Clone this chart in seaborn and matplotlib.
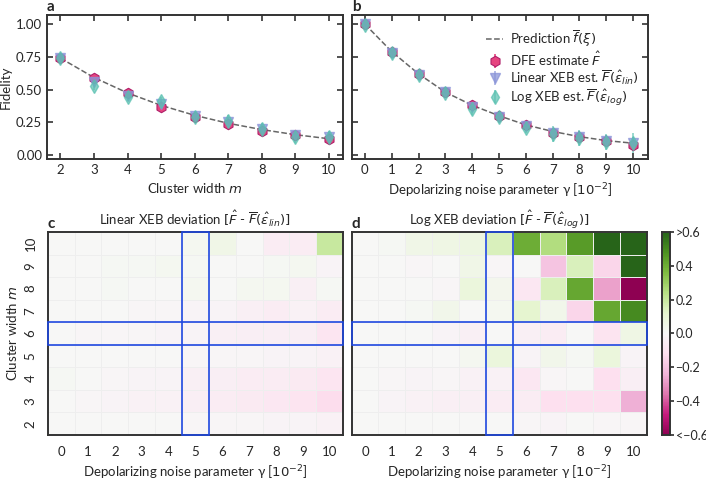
import numpy as np
import pandas as pd
import matplotlib
matplotlib.use("Agg")
import matplotlib.pyplot as plt
from matplotlib.patches import Rectangle
import seaborn as sns

# panel a: fidelity vs cluster width
widths = [2, 3, 4, 5, 6, 7, 8, 9, 10]
pred_a = [0.74, 0.592, 0.474, 0.379, 0.303, 0.242, 0.194, 0.155, 0.124]
dfe_a = [0.74, 0.59, 0.47, 0.37, 0.29, 0.24, 0.18, 0.15, 0.12]
lin_a = [0.74, 0.56, 0.45, 0.39, 0.30, 0.25, 0.20, 0.15, 0.14]
log_a = [0.74, 0.53, 0.44, 0.41, 0.29, 0.26, 0.20, 0.14, 0.14]
err_a = [0.02, 0.02, 0.02, 0.02, 0.03, 0.03, 0.03, 0.03, 0.03]

# panel b: fidelity vs depolarizing noise
gammas = [0, 1, 2, 3, 4, 5, 6, 7, 8, 9, 10]
pred_b = [1.00, 0.79, 0.62, 0.48, 0.38, 0.30, 0.23, 0.18, 0.14, 0.11, 0.09]
dfe_b = [1.00, 0.79, 0.62, 0.48, 0.38, 0.30, 0.23, 0.17, 0.14, 0.11, 0.08]
lin_b = [1.00, 0.78, 0.61, 0.48, 0.37, 0.29, 0.22, 0.17, 0.14, 0.11, 0.09]
log_b = [0.99, 0.78, 0.61, 0.47, 0.35, 0.29, 0.21, 0.16, 0.13, 0.10, 0.09]
err_b = [0.01, 0.02, 0.02, 0.02, 0.03, 0.03, 0.03, 0.04, 0.04, 0.04, 0.05]

# panel c/d heatmaps, rows m = 10 ... 2, columns gamma = 0 ... 10
rows_m = [10, 9, 8, 7, 6, 5, 4, 3, 2]
dev_lin = [
    [0, 0, 0, 0, 0, 0.02, 0.05, 0.0, -0.06, -0.06, 0.2],
    [0, 0, 0.01, 0.01, 0.02, 0.01, 0, 0, 0.01, 0.02, -0.02],
    [0, 0, 0.01, 0, 0, 0.02, 0, 0.02, 0.02, -0.04, 0.01],
    [0, 0, 0, -0.01, -0.01, -0.02, -0.02, -0.04, -0.06, -0.03, -0.06],
    [0, -0.01, -0.01, -0.01, -0.02, -0.02, -0.04, -0.05, -0.05, -0.05, -0.09],
    [0, 0, 0, 0, 0, -0.01, -0.01, -0.01, -0.02, -0.02, -0.03],
    [0.01, 0, -0.01, -0.02, -0.02, -0.04, -0.05, -0.06, -0.06, -0.07, -0.09],
    [0, -0.01, -0.02, -0.03, -0.03, -0.05, -0.06, -0.07, -0.08, -0.10, -0.13],
    [0, 0, 0, 0, 0, -0.01, -0.01, -0.01, -0.02, -0.02, -0.03],
]
dev_log = [
    [0, 0.01, 0.05, 0.06, 0.07, 0.15, 0.40, 0.25, 0.45, 0.65, 0.65],
    [0, 0, -0.01, 0, 0.05, -0.01, 0, -0.20, 0.15, -0.15, 0.60],
    [0, 0, 0, -0.01, 0.08, 0.03, -0.08, 0.15, 0.42, -0.28, -0.65],
    [0, 0, 0.01, 0.04, 0, 0.02, 0.12, 0.04, -0.15, 0.42, 0.50],
    [0, 0, 0, -0.02, -0.04, 0, -0.04, -0.06, 0, -0.10, 0.06],
    [0, 0, 0, 0, 0.02, 0.08, -0.02, 0.04, 0.01, 0.08, -0.02],
    [0, -0.01, -0.02, -0.01, -0.03, -0.03, -0.08, -0.01, 0.0, -0.12, -0.05],
    [0, -0.02, -0.03, -0.04, -0.04, -0.06, -0.06, -0.12, -0.12, -0.12, -0.25],
    [0, 0, 0, 0, 0, 0, -0.01, -0.02, 0, -0.01, -0.01],
]
cbar_ticks = [-0.6, -0.4, -0.2, 0.0, 0.2, 0.4, 0.6]
cbar_labels = ["<\u22120.6", "\u22120.4", "\u22120.2", "0.0", "0.2", "0.4", ">0.6"]

sns.set_theme(style="ticks")
plt.rcParams["font.family"] = ["Lato", "DejaVu Sans"]
plt.rcParams["mathtext.fontset"] = "dejavusans"
plt.rcParams["axes.edgecolor"] = "#333333"
plt.rcParams["axes.linewidth"] = 1.4

fig = plt.figure(figsize=(7.06, 4.83), dpi=100)
ax_a = fig.add_axes([0.0666, 0.671, 0.4194, 0.298])
ax_b = fig.add_axes([0.4986, 0.671, 0.4194, 0.298])
ax_c = fig.add_axes([0.0675, 0.0994, 0.4185, 0.4203])
ax_d = fig.add_axes([0.498, 0.0994, 0.4184, 0.4203])
ax_cb = fig.add_axes([0.9377, 0.0994, 0.0113, 0.4203])

c_dfe = "#e6447f"
c_lin = "#8a94d8"
c_log = "#58c0b0"


def fidelity_panel(ax, x, pred, dfe, lin, log, err, legend=False):
    sns.lineplot(x=x, y=pred, ax=ax, color="#666666", linestyle="--", lw=1.1,
                 label=r"Prediction $\overline{f}(\xi)$" if legend else None)
    ax.errorbar(x, dfe, yerr=err, fmt="h", ms=7.5, color=c_dfe, mec="#b0206a",
                mew=0.8, elinewidth=1.2, label=r"DFE estimate $\hat{F}$")
    ax.errorbar(x, lin, yerr=err, fmt="v", ms=7.5, color=c_lin, alpha=0.75,
                elinewidth=1.2, label=r"Linear XEB est. $\overline{F}(\hat{\epsilon}_{lin})$")
    ax.errorbar(x, log, yerr=[e * 1.5 for e in err], fmt="d", ms=7.5, color=c_log,
                alpha=0.7, elinewidth=1.2,
                label=r"Log XEB est. $\overline{F}(\hat{\epsilon}_{log})$")
    ax.set_ylim(-0.03, 1.07)
    ax.set_yticks([0, 0.25, 0.5, 0.75, 1.0])
    ax.set_xticks(x)
    ax.tick_params(direction="in", top=True, right=True, length=4, width=1.2,
                   labelsize=9.5, color="#333333")


fidelity_panel(ax_a, widths, pred_a, dfe_a, lin_a, log_a, err_a)
ax_a.set_xlim(1.6, 10.42)
ax_a.set_yticklabels(["0.00", "0.25", "0.50", "0.75", "1.00"])
ax_a.set_xlabel("Cluster width $m$", fontsize=9.5)
ax_a.set_ylabel("Fidelity", fontsize=9.5, labelpad=3)

fidelity_panel(ax_b, gammas, pred_b, dfe_b, lin_b, log_b, err_b, legend=True)
ax_b.set_xlim(-0.48, 10.56)
ax_b.set_yticklabels([])
ax_b.set_xlabel(r"Depolarizing noise parameter γ [$10^{-2}$]", fontsize=9.5)
ax_b.legend(frameon=False, loc="upper right", fontsize=9.5, handlelength=1.3,
            handletextpad=0.5, labelspacing=0.05, borderpad=0.2,
            bbox_to_anchor=(1.0, 0.97))

for ax, vals, title, cb in [
    (ax_c, dev_lin, r"Linear XEB deviation $[\hat{F}$ - $\overline{F}(\hat{\epsilon}_{lin})]$", False),
    (ax_d, dev_log, r"Log XEB deviation $[\hat{F}$ - $\overline{F}(\hat{\epsilon}_{log})]$", True),
]:
    df = pd.DataFrame(vals, index=rows_m, columns=gammas)
    sns.heatmap(df, ax=ax, cmap="PiYG", vmin=-0.6, vmax=0.6, linewidths=0.5,
                linecolor="#eeeeee", cbar=cb, cbar_ax=ax_cb if cb else None)
    ax.set_title(title, fontsize=9.5, pad=5)
    ax.set_xlabel(r"Depolarizing noise parameter γ [$10^{-2}$]", fontsize=9.5)
    ax.tick_params(length=0, labelsize=9.5, pad=8)
    ax.set_xticklabels(gammas, rotation=0)
    for s in ax.spines.values():
        s.set_visible(True)
        s.set_color("#333333")
        s.set_linewidth(1.4)
    ax.add_patch(Rectangle((5, 0), 1, len(rows_m), fill=False, ec="#1f48e0",
                           lw=1.2, clip_on=False, zorder=5))
    ax.add_patch(Rectangle((0, 4), len(gammas), 1, fill=False, ec="#1f48e0",
                           lw=1.2, clip_on=False, zorder=5))

ax_c.set_ylabel("Cluster width $m$", fontsize=9.5)
ax_c.set_yticklabels(rows_m, rotation=90, va="center")
ax_d.set_ylabel("")
ax_d.set_yticklabels([])

ax_cb.set_yticks(cbar_ticks)
ax_cb.set_yticklabels(cbar_labels)
ax_cb.tick_params(labelsize=9, length=3, pad=1, color="#333333")
for s in ax_cb.spines.values():
    s.set_visible(True)
    s.set_color("#333333")

for ax, lab in [(ax_a, "a"), (ax_b, "b"), (ax_c, "c"), (ax_d, "d")]:
    ax.text(0.0, 1.005, lab, transform=ax.transAxes, fontsize=11,
            fontweight="bold", va="bottom", ha="left")

fig.savefig("out.png", dpi=100)
